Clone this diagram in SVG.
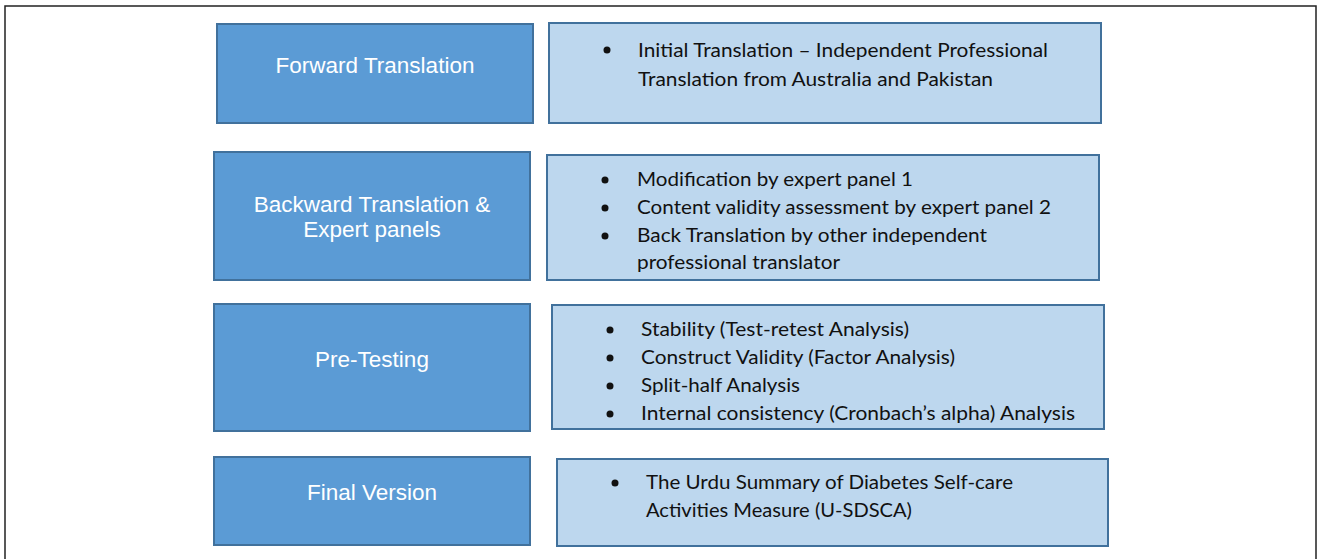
<svg xmlns="http://www.w3.org/2000/svg" width="1318" height="559" viewBox="0 0 1318 559">
<style>
.frame{fill:none;stroke:#222;stroke-width:1.5}
.dark{fill:#5B9BD5;stroke:#41719C;stroke-width:2}
.light{fill:#BDD7EE;stroke:#41719C;stroke-width:2}
.lt{font-family:"Liberation Sans",Arial,sans-serif;font-size:22.5px;fill:#fff;text-anchor:middle}
.rt{font-family:Lato,"Open Sans",sans-serif;font-size:19.5px;fill:#111}
.b{fill:#111}
</style>
<rect width="1318" height="559" fill="#fff"/>
<path class="frame" d="M5,559 V6 H1316 V559"/>
<g id="connectors"/>
<g id="forward">
<rect class="dark" x="217" y="24" width="316" height="99"/>
<text class="lt" x="375" y="73">Forward Translation</text>
</g>
<g id="forward-detail">
<rect class="light" x="549" y="23" width="552" height="100"/>
<circle class="b" cx="607" cy="50" r="3.5"/>
<text class="rt" x="638" y="57" textLength="410" lengthAdjust="spacingAndGlyphs">Initial Translation – Independent Professional</text>
<text class="rt" x="638" y="86" textLength="355" lengthAdjust="spacingAndGlyphs">Translation from Australia and Pakistan</text>
</g>
<g id="backward">
<rect class="dark" x="214" y="152" width="316" height="128"/>
<text class="lt" x="372" y="212">Backward Translation &amp;</text>
<text class="lt" x="372" y="237">Expert panels</text>
</g>
<g id="backward-detail">
<rect class="light" x="547" y="155" width="552" height="125"/>
<circle class="b" cx="605" cy="180" r="3.5"/>
<text class="rt" x="637" y="186" textLength="276" lengthAdjust="spacingAndGlyphs">Modification by expert panel 1</text>
<circle class="b" cx="605" cy="208" r="3.5"/>
<text class="rt" x="637" y="214" textLength="414" lengthAdjust="spacingAndGlyphs">Content validity assessment by expert panel 2</text>
<circle class="b" cx="605" cy="236" r="3.5"/>
<text class="rt" x="637" y="242" textLength="350" lengthAdjust="spacingAndGlyphs">Back Translation by other independent</text>
<text class="rt" x="637" y="269" textLength="203" lengthAdjust="spacingAndGlyphs">professional translator</text>
</g>
<g id="pretesting">
<rect class="dark" x="214" y="304" width="316" height="127"/>
<text class="lt" x="372" y="367">Pre-Testing</text>
</g>
<g id="pretesting-detail">
<rect class="light" x="552" y="305" width="552" height="124"/>
<circle class="b" cx="610" cy="330" r="3.5"/>
<text class="rt" x="641" y="336" textLength="268" lengthAdjust="spacingAndGlyphs">Stability (Test-retest Analysis)</text>
<circle class="b" cx="610" cy="358" r="3.5"/>
<text class="rt" x="641" y="364" textLength="314" lengthAdjust="spacingAndGlyphs">Construct Validity (Factor Analysis)</text>
<circle class="b" cx="610" cy="386" r="3.5"/>
<text class="rt" x="641" y="392" textLength="159" lengthAdjust="spacingAndGlyphs">Split-half Analysis</text>
<circle class="b" cx="610" cy="414" r="3.5"/>
<text class="rt" x="641" y="420" textLength="434" lengthAdjust="spacingAndGlyphs">Internal consistency (Cronbach’s alpha) Analysis</text>
</g>
<g id="final">
<rect class="dark" x="214" y="457" width="316" height="88"/>
<text class="lt" x="372" y="500">Final Version</text>
</g>
<g id="final-detail">
<rect class="light" x="557" y="459" width="551" height="87"/>
<circle class="b" cx="615" cy="483" r="3.5"/>
<text class="rt" x="646" y="489" textLength="367" lengthAdjust="spacingAndGlyphs">The Urdu Summary of Diabetes Self-care</text>
<text class="rt" x="646" y="517" textLength="266" lengthAdjust="spacingAndGlyphs">Activities Measure (U-SDSCA)</text>
</g>
</svg>
